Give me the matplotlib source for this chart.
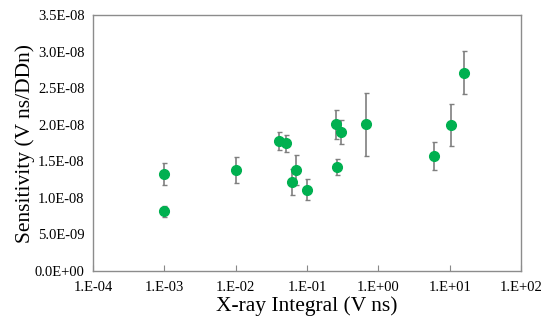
import math
import matplotlib
matplotlib.use('Agg')
import matplotlib.pyplot as plt
from matplotlib.ticker import FixedLocator, FuncFormatter, NullLocator

# data
xray = [0.001, 0.001, 0.01, 0.0406, 0.0508, 0.0624, 0.071, 0.101,
        0.252, 0.303, 0.264, 0.671, 6.1, 10.5, 16.0]
sens = [1.32e-8, 0.816e-8, 1.38e-8, 1.775e-8, 1.746e-8, 1.22e-8, 1.38e-8, 1.11e-8,
        2.005e-8, 1.90e-8, 1.422e-8, 2.005e-8, 1.577e-8, 1.996e-8, 2.711e-8]
err = [0.15e-8, 0.075e-8, 0.175e-8, 0.125e-8, 0.116e-8, 0.178e-8, 0.2e-8, 0.143e-8,
       0.196e-8, 0.166e-8, 0.109e-8, 0.433e-8, 0.19e-8, 0.287e-8, 0.292e-8]
xticks = [1e-4, 1e-3, 1e-2, 1e-1, 1e0, 1e1, 1e2]
yticks = [i * 0.5e-8 for i in range(8)]

plt.rcParams['font.family'] = ['Liberation Serif', 'DejaVu Serif']

fig = plt.figure(figsize=(5.43, 3.22), dpi=100)
ax = fig.add_axes([0.1713, 0.1584, 0.7882, 0.795])

ax.errorbar(xray, sens, yerr=err, fmt='o', color='#00b050', markersize=7,
            ecolor='#7f7f7f', elinewidth=1.2, capsize=1.8, capthick=1.0, zorder=3)

ax.set_xscale('log')
ax.set_xlim(1e-4, 1e2)
ax.set_ylim(0, 3.5e-8)
ax.xaxis.set_major_locator(FixedLocator(xticks))
ax.xaxis.set_minor_locator(NullLocator())
ax.yaxis.set_major_locator(FixedLocator(yticks))

def xfmt(v, pos):
    return '1.E%+03d' % int(round(math.log10(v)))
ax.xaxis.set_major_formatter(FuncFormatter(xfmt))
ax.yaxis.set_major_formatter(FuncFormatter(lambda v, p: '%.1E' % v))

ax.tick_params(axis='x', direction='in', length=4, width=0.8, color='#888888',
               labelsize=10.5, pad=7)
ax.tick_params(axis='y', length=0, labelsize=10.5, pad=6)
for s in ax.spines.values():
    s.set_color('#8c8c8c')
    s.set_linewidth(1.0)

ax.set_xlabel('X-ray Integral (V ns)', fontsize=15.5, labelpad=2)
ax.set_ylabel('Sensitivity (V ns/DDn)', fontsize=15.5, labelpad=0)

fig.savefig('out.png', dpi=100)
